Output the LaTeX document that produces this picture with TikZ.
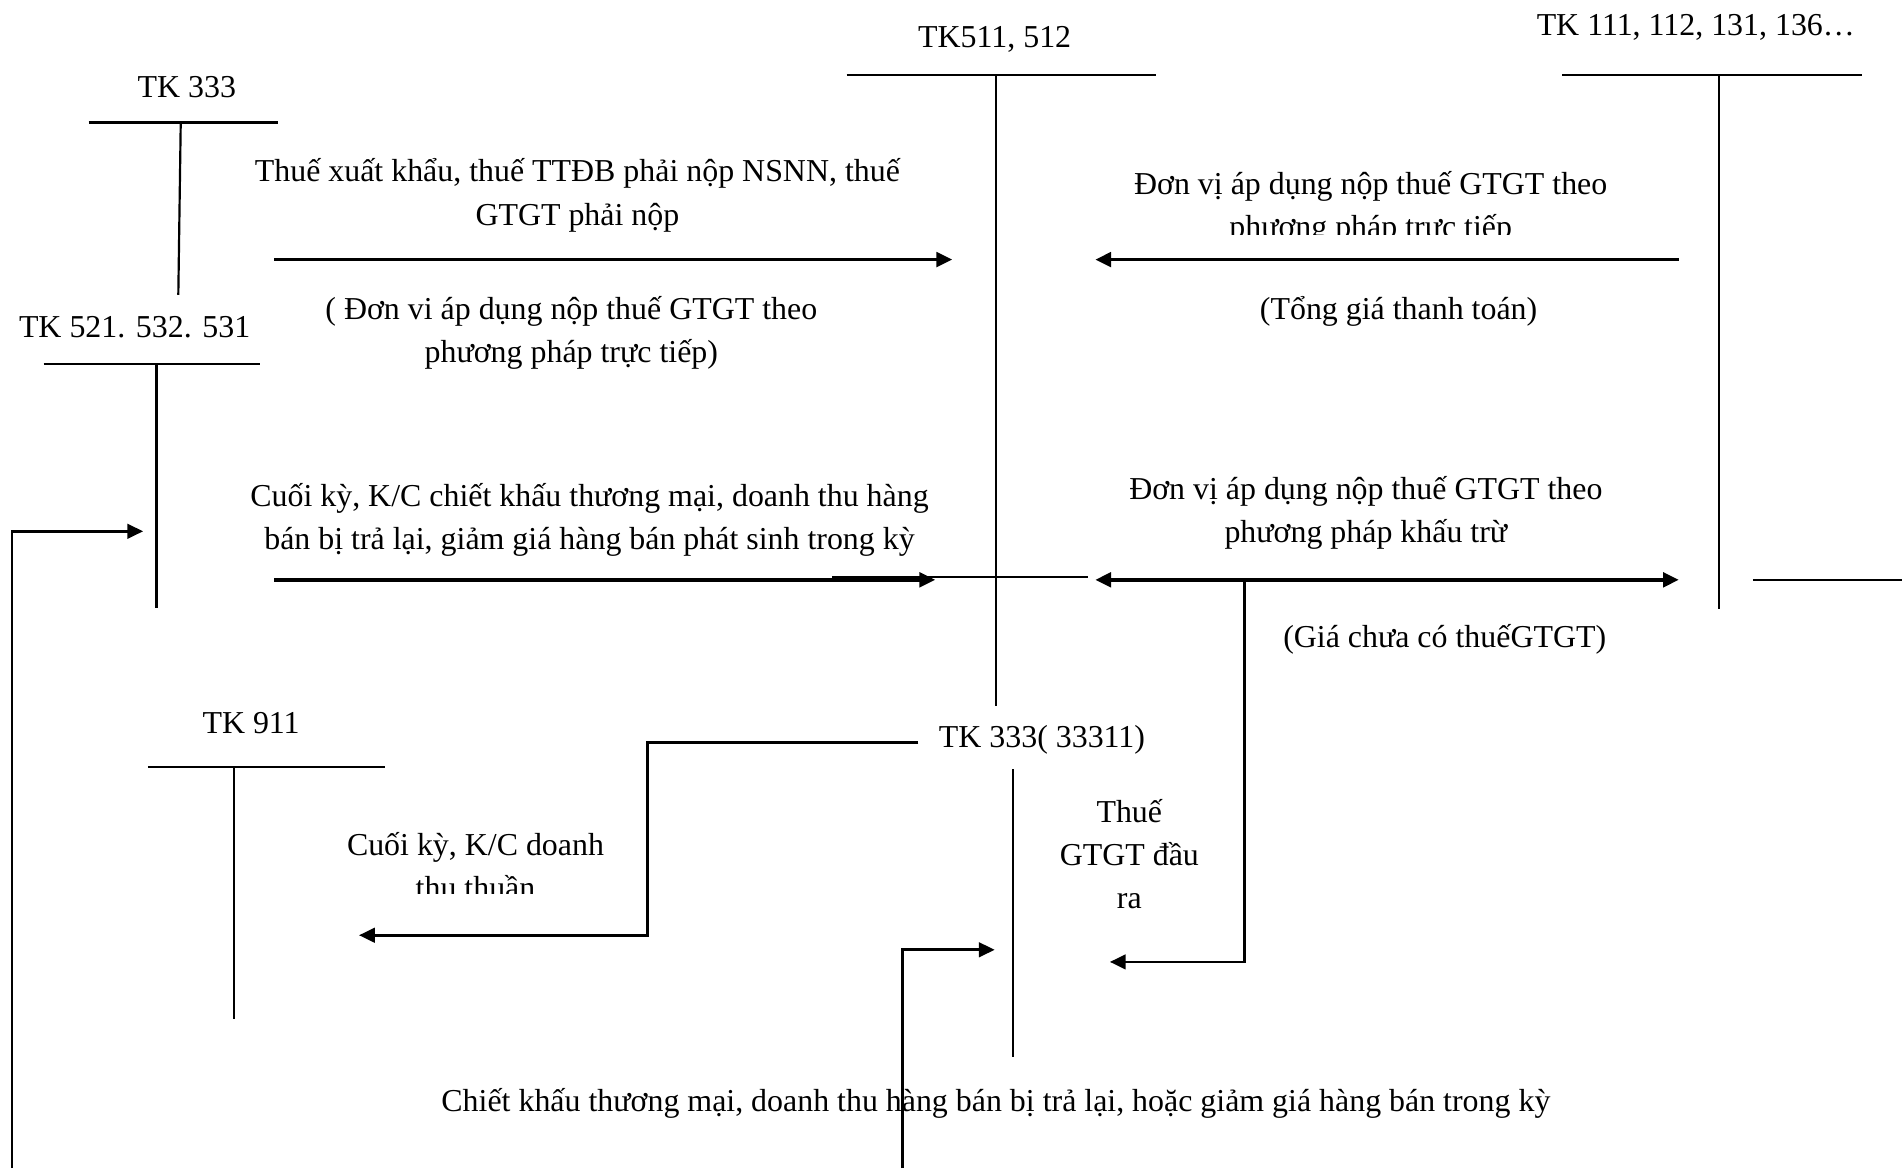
\documentclass[tikz,border=0pt]{standalone}
\usepackage{fontspec}
\setmainfont{Liberation Serif}
\usetikzlibrary{arrows.meta}
\begin{document}
\begin{tikzpicture}[x=1pt,y=-1pt,
  lbl/.style={inner sep=0pt, anchor=base, align=center,
    font=\fontsize{26.3}{35.5}\selectfont},
  tacct/.style={line width=1.8pt},
  flow/.style={line width=2.8pt, -{Triangle[length=13pt,width=12pt]}},
  both/.style={line width=2.8pt, {Triangle[length=13pt,width=12pt]}-{Triangle[length=13pt,width=12pt]}},
  link/.style={line width=2.2pt, -{Triangle[length=13pt,width=12pt]}},
  plain/.style={line width=1.6pt}]
\useasboundingbox (0,0) rectangle (1568,963);

% ---- T-accounts: title, bar and stem ----
\node[lbl] (t333) at (154,80) {TK 333};
\coordinate (b333l) at (73,101);  \coordinate (b333r) at (229,101);
\coordinate (s333t) at (149,101); \coordinate (s333b) at (147,243);
\draw[tacct] (b333l) -- (b333r);
\draw[tacct] (s333t) -- (s333b);

\node[lbl] (t521) at (111,278) {TK 521. 532. 531};
\coordinate (b521l) at (36,300);  \coordinate (b521r) at (214,300);
\coordinate (s521t) at (129,300); \coordinate (s521b) at (129,501);
\draw[tacct] (b521l) -- (b521r);
\draw[tacct] (s521t) -- (s521b);

\node[lbl] (t511) at (820,39) {TK511, 512};
\coordinate (b511l) at (698,62);  \coordinate (b511r) at (953,62);
\coordinate (s511t) at (821,62);  \coordinate (s511b) at (821,582);
\draw[tacct] (b511l) -- (b511r);
\draw[tacct] (s511t) -- (s511b);

\node[lbl] (t111) at (1398,29) {TK 111, 112, 131, 136…};
\coordinate (b111l) at (1288,62); \coordinate (b111r) at (1535,62);
\coordinate (s111t) at (1417,62); \coordinate (s111b) at (1417,502);
\draw[tacct] (b111l) -- (b111r);
\draw[tacct] (s111t) -- (s111b);

\node[lbl] (t911) at (207,605) {TK 911};
\coordinate (b911l) at (122,632); \coordinate (b911r) at (317,632);
\coordinate (s911t) at (193,632); \coordinate (s911b) at (193,840);
\draw[tacct] (b911l) -- (b911r);
\draw[tacct] (s911t) -- (s911b);

\node[lbl] (t3331) at (859,616) {TK 333( 33311)};
\coordinate (s3331t) at (835,634); \coordinate (s3331b) at (835,871);
\draw[tacct] (s3331t) -- (s3331b);

% ---- upper row of entries (multi-line labels sit on their last baseline) ----
\coordinate (a1s) at (226,214); \coordinate (a1e) at (785,214);
\draw[flow] (a1s) -- (a1e);
\node[lbl] (n1) at (476,185.5) {Thuế xuất khẩu, thuế TTĐB phải nộp NSNN, thuế\\GTGT phải nộp};
\node[lbl] (n2) at (471,298.5) {( Đơn vi áp dụng nộp thuế GTGT theo\\phương pháp trực tiếp)};

\coordinate (a2s) at (1384,214); \coordinate (a2e) at (903,214);
\draw[flow] (a2s) -- (a2e);
\begin{scope}
  \clip (900,120) rectangle (1400,193);
  \node[lbl] (n3) at (1130,195.5) {Đơn vị áp dụng nộp thuế GTGT theo\\phương pháp trực tiếp};
\end{scope}
\node[lbl] (n4) at (1153,263) {(Tổng giá thanh toán)};

% ---- middle row of entries ----
\coordinate (a3s) at (226,478); \coordinate (a3e) at (771,478);
\draw[flow] (a3s) -- (a3e);
\coordinate (c3s) at (686,476); \coordinate (c3e) at (897,476);
\draw[plain] (c3s) -- (c3e);
\node[lbl] (n5) at (486,453) {Cuối kỳ, K/C chiết khấu thương mại, doanh thu hàng\\bán bị trả lại, giảm giá hàng bán phát sinh trong kỳ};

\coordinate (a4l) at (903,478); \coordinate (a4r) at (1384,478);
\draw[both] (a4l) -- (a4r);
\coordinate (a4b) at (1026,478); \coordinate (a4c) at (1026,793); \coordinate (a4e) at (915,793);
\draw[link] (a4b) -- (a4c) -- (a4e);
\coordinate (stubl) at (1445,478); \coordinate (stubr) at (1568,478);
\draw[plain] (stubl) -- (stubr);
\node[lbl] (n6) at (1126,447.5) {Đơn vị áp dụng nộp thuế GTGT theo\\phương pháp khấu trừ};
\node[lbl] (n7) at (1191,534) {(Giá chưa có thuếGTGT)};

% ---- lower part ----
\coordinate (a5s) at (757,612); \coordinate (a5a) at (534,612);
\coordinate (a5b) at (534,771);  \coordinate (a5e) at (296,771);
\draw[link] (a5s) -- (a5a) -- (a5b) -- (a5e);
\begin{scope}
  \clip (250,660) rectangle (540,737);
  \node[lbl] (n8) at (392,740.5) {Cuối kỳ, K/C doanh\\thu thuần};
\end{scope}

\node[lbl] (n9) at (931,749) {Thuế\\GTGT đầu\\ra};

\coordinate (a6s) at (10,963); \coordinate (a6a) at (10,438); \coordinate (a6e) at (118,438);
\draw[link] (a6s) -- (a6a) -- (a6e);

\coordinate (a7s) at (744,963); \coordinate (a7a) at (744,783); \coordinate (a7e) at (820,783);
\draw[link] (a7s) -- (a7a) -- (a7e);

\node[lbl] (n10) at (821,916) {Chiết khấu thương mại, doanh thu hàng bán bị trả lại, hoặc giảm giá hàng bán trong kỳ};
\end{tikzpicture}
\end{document}
